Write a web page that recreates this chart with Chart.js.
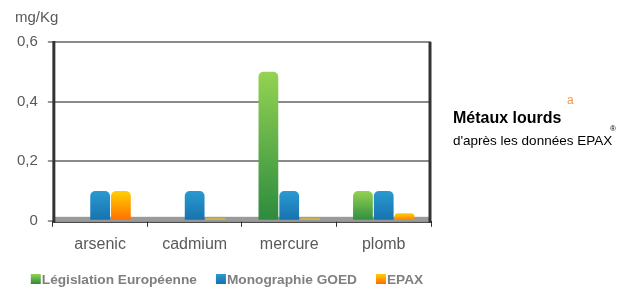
<!DOCTYPE html>
<html>
<head>
<meta charset="utf-8">
<script src="https://cdn.jsdelivr.net/npm/chart.js@4"></script>
<style>
  html, body { margin: 0; padding: 0; background: #fff; }
  #wrap { width: 629px; height: 291px; }
</style>
</head>
<body>
<div id="wrap"><canvas id="metauxChart" width="629" height="291"></canvas></div>
<script>
const categories = ['arsenic', 'cadmium', 'mercure', 'plomb'];
const seriesNames = ['Législation Européenne', 'Monographie GOED', 'EPAX'];
const legislation = [null, null, 0.5, 0.1];
const goed = [0.1, 0.1, 0.1, 0.1];
const epax = [0.1, 0.008, 0.008, 0.025];
const yTicks = [0, 0.2, 0.4, 0.6];

const FONT = '"Liberation Sans", Arial, sans-serif';
const seriesColors = [
    ['#94d353', '#2b8a3e'],
    ['#2a9ad0', '#1670ad'],
    ['#ffd000', '#ff6a00']
];

// vertical gradient for each bar, from its top down to the floor
function barGradient(topColor, bottomColor) {
    return function (ctx) {
        const chart = ctx.chart;
        const ys = chart.scales.y;
        if (!chart.chartArea || !ys || ctx.type !== 'data' || ctx.raw == null) return bottomColor;
        const top = ys.getPixelForValue(ctx.raw);
        const base = ys.getPixelForValue(0);
        const g = chart.ctx.createLinearGradient(0, top, 0, base + 1);
        g.addColorStop(0, topColor);
        g.addColorStop(1, bottomColor);
        return g;
    };
}

// walls, floor, legend and side texts
const framePlugin = {
    id: 'frame',
    beforeDatasetsDraw(chart) {
        const c = chart.ctx, a = chart.chartArea;
        c.save();
        // floor
        c.fillStyle = '#9a9a9a';
        c.fillRect(a.left, a.bottom - 4, a.right - a.left, 5);
        c.strokeStyle = '#222';
        c.lineWidth = 1;
        c.beginPath();
        c.moveTo(a.left, a.bottom + 1.5);
        c.lineTo(a.right, a.bottom + 1.5);
        c.stroke();
        // left wall
        c.lineWidth = 3;
        c.strokeStyle = '#333';
        c.beginPath();
        c.moveTo(a.left + 1, a.top - 1);
        c.lineTo(a.left + 1, a.bottom + 2);
        c.stroke();
        // right wall
        c.beginPath();
        c.moveTo(a.right - 1, a.top);
        c.lineTo(a.right - 1, a.bottom + 2);
        c.stroke();
        c.restore();
    },
    afterDraw(chart) {
        const c = chart.ctx;
        c.save();
        c.textBaseline = 'alphabetic';
        c.fillStyle = '#595959';
        c.font = '15px ' + FONT;
        c.fillText('mg/Kg', 15, 22);

        c.fillStyle = '#000';
        c.font = 'bold 16px ' + FONT;
        c.fillText('Métaux lourds', 453, 123);
        c.fillStyle = '#f79646';
        c.font = '12px ' + FONT;
        c.fillText('a', 567, 104);
        c.fillStyle = '#000';
        c.font = '13.5px ' + FONT;
        c.fillText("d'après les données EPAX", 453, 145);
        c.font = '8px ' + FONT;
        c.fillText('®', 610, 131);

        // legend
        c.font = 'bold 13.7px ' + FONT;
        c.textBaseline = 'middle';
        const gap = 19, box = 10, boxGap = 1;
        const widths = seriesNames.map(n => box + boxGap + c.measureText(n).width);
        const total = widths.reduce((s, w) => s + w, 0) + gap * (widths.length - 1);
        let x = 227 - total / 2;
        const y = 279;
        seriesNames.forEach((name, i) => {
            const g = c.createLinearGradient(0, y - box / 2, 0, y + box / 2);
            g.addColorStop(0, seriesColors[i][0]);
            g.addColorStop(1, seriesColors[i][1]);
            c.fillStyle = g;
            c.fillRect(x, y - box / 2, box, box);
            c.fillStyle = '#7f7f7f';
            c.fillText(name, x + box + boxGap, y + 1);
            x += widths[i] + gap;
        });
        c.restore();
    }
};

const ctx = document.getElementById('metauxChart').getContext('2d');
new Chart(ctx, {
    type: 'bar',
    data: {
        labels: categories,
        datasets: [
            { label: seriesNames[0], data: legislation, backgroundColor: barGradient(...seriesColors[0]) },
            { label: seriesNames[1], data: goed, backgroundColor: barGradient(...seriesColors[1]) },
            { label: seriesNames[2], data: epax, backgroundColor: barGradient(...seriesColors[2]) }
        ]
    },
    options: {
        responsive: false,
        animation: false,
        layout: { padding: { left: 7, right: 198, top: 42, bottom: 29 } },
        datasets: {
            bar: {
                categoryPercentage: 0.66,
                barPercentage: 0.95,
                borderRadius: { topLeft: 5, topRight: 5 },
                borderSkipped: 'bottom'
            }
        },
        scales: {
            x: {
                grid: { offset: true, drawOnChartArea: false, drawTicks: true, tickLength: 6, color: '#333' },
                border: { display: false },
                ticks: { color: '#595959', font: { size: 16, family: FONT }, padding: 8 }
            },
            y: {
                min: 0,
                max: 0.6,
                afterBuildTicks(scale) {
                    scale.ticks = yTicks.map(v => ({ value: v }));
                },
                grid: {
                    color: ctx => ctx.tick && ctx.tick.value === 0 ? 'rgba(0,0,0,0)' : '#8a8a8a',
                    lineWidth: 2,
                    tickLength: 5,
                    tickColor: '#333',
                    tickWidth: 1
                },
                border: { display: false },
                ticks: {
                    color: '#595959',
                    padding: 10,
                    font: { size: 15, family: FONT },
                    callback: v => String(v).replace('.', ',')
                }
            }
        },
        plugins: {
            legend: { display: false },
            tooltip: { enabled: false }
        }
    },
    plugins: [framePlugin]
});
</script>
</body>
</html>
